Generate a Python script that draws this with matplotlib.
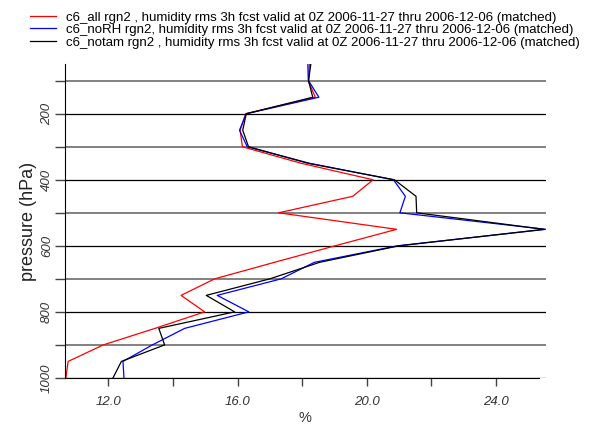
import matplotlib
matplotlib.use("Agg")
import matplotlib.pyplot as plt
from matplotlib.ticker import MultipleLocator, FixedLocator

plt.rcParams['font.family'] = ['Liberation Sans', 'DejaVu Sans']

#----------------------------------------------------
# data (pressure levels, hPa)
pressure = [1000, 950, 900, 850, 800, 750, 700, 650, 600, 550,
            500, 450, 400, 350, 300, 250, 200, 150, 100, 50]
rms_all = [10.68, 10.75, 11.84, 13.44, 14.98, 14.25, 15.29, 17.14, 19.02, 20.93,
           17.27, 19.57, 20.20, 17.97, 16.15, 16.08, 16.25, 18.41, 18.19, 18.17]
rms_norh = [12.48, 12.45, 13.36, 14.36, 16.35, 15.37, 17.35, 18.38, 20.95, 25.55,
            21.03, 21.20, 20.83, 18.23, 16.30, 16.06, 16.27, 18.52, 18.20, 18.22]
rms_notam = [12.14, 12.40, 13.74, 13.56, 15.91, 15.03, 17.00, 18.54, 21.00, 25.50,
             21.55, 21.53, 20.86, 18.18, 16.34, 16.16, 16.27, 18.33, 18.20, 18.27]
series_labels = [
    "c6_all rgn2 , humidity rms 3h fcst valid at 0Z 2006-11-27 thru 2006-12-06 (matched)",
    "c6_noRH rgn2, humidity rms 3h fcst valid at 0Z 2006-11-27 thru 2006-12-06 (matched)",
    "c6_notam rgn2 , humidity rms 3h fcst valid at 0Z 2006-11-27 thru 2006-12-06 (matched)",
]
x_ticks = [12, 16, 20, 24]
y_ticks = [200, 400, 600, 800, 1000]

#----------------------------------------------------
fig = plt.figure(figsize=(5.9, 4.28), dpi=100)
ax = fig.add_axes([0.110, 0.117, 0.815, 0.733])

ax.plot(rms_all, pressure, color='#ff0000', lw=0.9, label=series_labels[0])
ax.plot(rms_norh, pressure, color='#0000ff', lw=0.9, label=series_labels[1])
ax.plot(rms_notam, pressure, color='#000000', lw=0.9, label=series_labels[2])

ax.set_xlim(10.65, 25.55)
ax.set_ylim(1000, 50)

# grid lines every 100 hPa, darker at labelled levels
ax.yaxis.set_major_locator(FixedLocator(y_ticks))
ax.yaxis.set_minor_locator(FixedLocator([100, 300, 500, 700, 900]))
ax.xaxis.set_major_locator(FixedLocator(x_ticks))
ax.xaxis.set_minor_locator(MultipleLocator(2))
ax.grid(True, axis='y', which='major', color='#000000', lw=0.9)
ax.grid(True, axis='y', which='minor', color='#777777', lw=1.3)
ax.set_axisbelow(True)

ax.set_xticklabels(["%.1f" % t for t in x_ticks])
ax.set_yticklabels([str(t) for t in y_ticks], rotation=90, va='center')
for lab in ax.get_xticklabels() + ax.get_yticklabels():
    lab.set_fontstyle('italic')
    lab.set_color('#333333')
    lab.set_fontsize(9.5)
ax.tick_params(axis='both', which='both', direction='out', width=1,
               color='#444444')
ax.tick_params(axis='x', which='both', length=6, pad=7)
ax.tick_params(axis='y', which='both', length=7, pad=1.5)

for s in ['top', 'right']:
    ax.spines[s].set_visible(False)
ax.spines['bottom'].set_bounds(10.65, 25.33)

ax.set_xlabel('%', fontsize=10.5, color='#333333', labelpad=2)
ax.set_ylabel('pressure (hPa)', fontsize=13, color='#222222', labelpad=3)

fig.legend(loc='upper left', bbox_to_anchor=(0.035, 0.995), frameon=False,
           fontsize=9.5, handlelength=2.0, handletextpad=0.75,
           labelspacing=0.02, borderaxespad=0.3)

fig.savefig('out.png', dpi=100, facecolor='white')
